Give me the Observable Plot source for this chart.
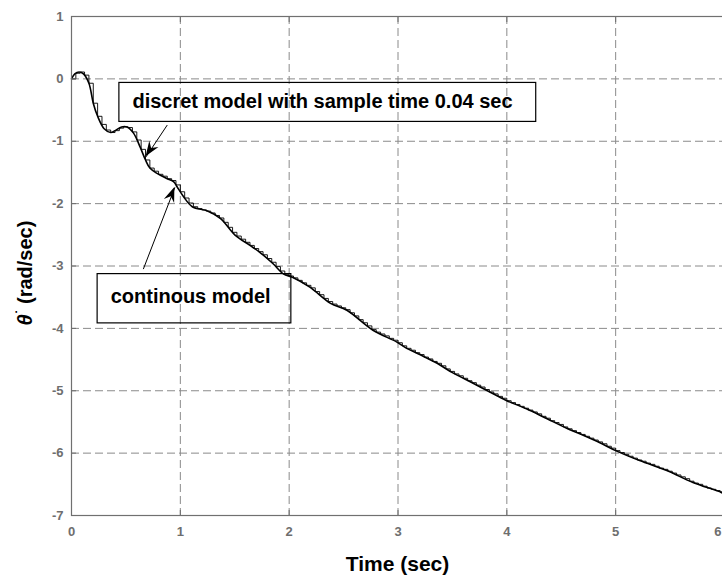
<!DOCTYPE html>
<html>
<head>
<meta charset="utf-8">
<script src="https://cdn.jsdelivr.net/npm/d3@7"></script>
<script src="https://cdn.jsdelivr.net/npm/@observablehq/plot@0.6"></script>
<style>
  html, body { margin: 0; padding: 0; background: #fff; overflow: hidden; }
  #chart { width: 722px; height: 579px; overflow: hidden; }
</style>
</head>
<body>
<div id="chart"></div>
<script>
// ---- Data ----
const xTicks = [0, 1, 2, 3, 4, 5, 6];
const yTicks = [1, 0, -1, -2, -3, -4, -5, -6, -7];

// continuous model (time in sec, theta-dot in rad/sec)
const contTime = [0, 0.03, 0.07, 0.11, 0.16, 0.2, 0.24, 0.3, 0.36, 0.4, 0.46, 0.51, 0.57, 0.63, 0.68, 0.72, 0.79, 0.88, 0.94, 0.97,
  1.03, 1.11, 1.25, 1.37, 1.5, 1.64, 1.73, 1.85, 1.95, 2.03, 2.19, 2.38, 2.53, 2.77, 2.99, 3.08, 3.2, 3.36, 3.5, 3.69,
  3.91, 4.0, 4.18, 4.37, 4.55, 4.67, 4.85, 5.0, 5.22, 5.47, 5.71, 5.97, 6.0];
const contValue = [0, 0.08, 0.11, 0.08, -0.07, -0.39, -0.6, -0.8, -0.86, -0.83, -0.77, -0.77, -0.87, -1.09, -1.3, -1.43, -1.52, -1.6, -1.65, -1.73,
  -1.89, -2.05, -2.12, -2.24, -2.5, -2.67, -2.78, -2.96, -3.13, -3.18, -3.34, -3.6, -3.71, -4.03, -4.22, -4.32, -4.42, -4.56, -4.71, -4.88,
  -5.08, -5.16, -5.29, -5.45, -5.6, -5.69, -5.83, -5.96, -6.12, -6.28, -6.47, -6.63, -6.66];

// discrete model, sample time 0.04 sec (held samples)
const sampleTime = 0.04;
const discreteValue = [
  0, 0.09, 0.11, 0.06, -0.07, -0.39, -0.60, -0.73, -0.82, -0.86,
  -0.83, -0.79, -0.77, -0.78, -0.85, -0.98, -1.13, -1.30, -1.43, -1.48,
  -1.53, -1.56, -1.60, -1.63, -1.70, -1.81, -1.91, -1.99, -2.05, -2.08,
  -2.10, -2.12, -2.15, -2.19, -2.23, -2.30, -2.38, -2.46, -2.52, -2.57,
  -2.62, -2.67, -2.72, -2.77, -2.82, -2.88, -2.94, -3.01, -3.08, -3.14,
  -3.16, -3.19, -3.23, -3.27, -3.31, -3.35, -3.41, -3.46, -3.52, -3.57,
  -3.61, -3.64, -3.67, -3.70, -3.75, -3.80, -3.86, -3.91, -3.96, -4.02,
  -4.06, -4.09, -4.12, -4.16, -4.19, -4.23, -4.28, -4.32, -4.35, -4.39,
  -4.42, -4.46, -4.49, -4.53, -4.56, -4.60, -4.65, -4.69, -4.73, -4.76,
  -4.80, -4.84, -4.87, -4.91, -4.94, -4.98, -5.02, -5.05, -5.09, -5.12,
  -5.16, -5.19, -5.22, -5.25, -5.28, -5.31, -5.34, -5.37, -5.41, -5.44,
  -5.48, -5.51, -5.54, -5.58, -5.61, -5.64, -5.67, -5.70, -5.73, -5.76,
  -5.79, -5.82, -5.85, -5.89, -5.92, -5.96, -5.99, -6.02, -6.05, -6.08,
  -6.11, -6.13, -6.16, -6.18, -6.21, -6.24, -6.26, -6.29, -6.32, -6.35,
  -6.38, -6.41, -6.45, -6.48, -6.50, -6.53, -6.56, -6.58, -6.60, -6.62,
  -6.65];

// annotations
const noteText = ["discret model with sample time 0.04 sec", "continous model"];

// ---- Build tables ----
const cont = contTime.map((t, i) => ({t, v: contValue[i]}));
const disc = discreteValue.map((v, i) => ({t: +(i * sampleTime).toFixed(2), v}));

const boxes = [
  {x1: 0.44, x2: 4.27, y1: -0.065, y2: -0.69},
  {x1: 0.24, x2: 2.02, y1: -3.13, y2: -3.92}
];
const labels = [
  {x: 0.56, y: -0.37, text: noteText[0]},
  {x: 0.36, y: -3.49, text: noteText[1]}
];
const arrows = [
  {x1: 0.88, y1: -0.74, x2: 0.685, y2: -1.25},
  {x1: 0.66, y1: -3.05, x2: 0.95, y2: -1.74}
];

const gray = "#6e6e6e";
const fontFamily = "'Liberation Sans', Arial, Helvetica, sans-serif";

const chart = Plot.plot({
  width: 722,
  height: 579,
  marginLeft: 71,
  marginRight: -2,
  marginTop: 16,
  marginBottom: 64,
  x: {domain: [0, 6]},
  y: {domain: [-7, 1]},
  style: {fontFamily, background: "white", overflow: "visible"},
  marks: [
    Plot.gridX(xTicks, {stroke: "#8a8a8a", strokeOpacity: 1, strokeDasharray: "8,4"}),
    Plot.gridY(yTicks, {stroke: "#8a8a8a", strokeOpacity: 1, strokeDasharray: "8,4"}),
    Plot.rect(boxes, {x1: "x1", x2: "x2", y1: "y1", y2: "y2", fill: "none", stroke: "black", strokeWidth: 1.2}),
    Plot.line(disc, {x: "t", y: "v", curve: "step-after", stroke: "black", strokeWidth: 0.9}),
    Plot.line(cont, {x: "t", y: "v", curve: "catmull-rom", stroke: "black", strokeWidth: 1.6}),
    Plot.link(arrows, {x1: "x1", y1: "y1", x2: "x2", y2: "y2", stroke: "black", strokeWidth: 1}),
    Plot.text(labels, {x: "x", y: "y", text: "text", textAnchor: "start", fontSize: 20, fontWeight: "bold", fill: "black"}),
    Plot.frame({stroke: "#707070", strokeWidth: 1.2}),
    Plot.axisX(xTicks, {anchor: "bottom", tickSize: -5, tickFormat: () => "", label: null, stroke: gray}),
    Plot.axisX(xTicks, {anchor: "top", tickSize: -5, tickFormat: () => "", label: null, stroke: gray}),
    Plot.axisY(yTicks, {anchor: "left", tickSize: -5, tickFormat: () => "", label: null, stroke: gray}),
    Plot.axisX(xTicks, {anchor: "bottom", tickSize: 0, tickPadding: 11, tickFormat: d => String(d), label: null,
      fill: gray, fontSize: 13, fontWeight: "bold"}),
    Plot.axisY(yTicks, {anchor: "left", tickSize: 0, tickPadding: 8, tickFormat: d => String(d), label: null,
      fill: gray, fontSize: 13, fontWeight: "bold"})
  ]
});

document.getElementById("chart").appendChild(chart);

const sx = chart.scale("x"), sy = chart.scale("y");
const svg = d3.select(chart);

// keep the last x tick label ("6") inside the picture
svg.selectAll("text").filter(function () { return this.textContent === "6"; })
  .attr("text-anchor", "end").attr("dx", -3);

// filled arrowheads, placed through the plot's scales
const g = svg.append("g");
arrows.forEach(a => {
  const x1 = sx.apply(a.x1), y1 = sy.apply(a.y1), x2 = sx.apply(a.x2), y2 = sy.apply(a.y2);
  const ang = Math.atan2(y2 - y1, x2 - x1);
  const L = 15, W = 5.5, N = 10;
  const ux = Math.cos(ang), uy = Math.sin(ang);
  const px = -uy, py = ux;
  const p = [
    [x2, y2],
    [x2 - L * ux + W * px, y2 - L * uy + W * py],
    [x2 - N * ux, y2 - N * uy],
    [x2 - L * ux - W * px, y2 - L * uy - W * py]
  ];
  g.append("path").attr("d", "M" + p.map(q => q.join(",")).join("L") + "Z").attr("fill", "black");
});

// axis labels
const xRange = sx.range;
svg.append("text")
  .attr("x", (xRange[0] + xRange[1]) / 2)
  .attr("y", 571)
  .attr("text-anchor", "middle")
  .attr("font-family", fontFamily)
  .attr("font-size", 21)
  .attr("font-weight", "bold")
  .attr("fill", "black")
  .text("Time (sec)");

const yl = svg.append("text")
  .attr("transform", `translate(32,${273}) rotate(-90)`)
  .attr("text-anchor", "middle")
  .attr("font-family", fontFamily)
  .attr("font-size", 20)
  .attr("font-weight", "bold")
  .attr("fill", "black");
yl.append("tspan").attr("font-style", "italic").text("θ");
yl.append("tspan").attr("dy", -6).attr("font-size", 14).text("˙");
yl.append("tspan").attr("dy", 6).text(" (rad/sec)");
</script>
</body>
</html>
